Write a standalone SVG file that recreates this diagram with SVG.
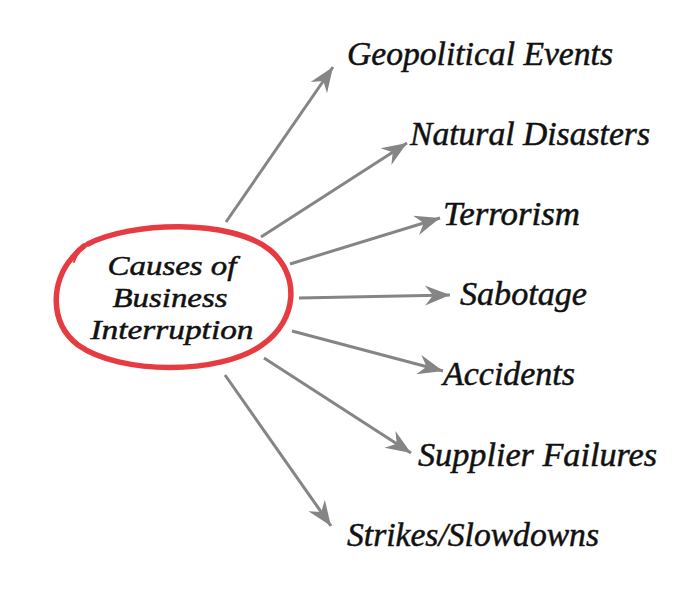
<svg xmlns="http://www.w3.org/2000/svg" width="699" height="599" viewBox="0 0 699 599">
<style>
  .lbl { font-family: "Liberation Serif", serif; font-style: italic; font-size: 34px; fill: #111; stroke: #111; stroke-width: 0.5; }
  .ctr { font-family: "Liberation Serif", serif; font-style: italic; font-size: 28px; fill: #111; stroke: #111; stroke-width: 0.5; text-anchor: middle; }
  .conn line { stroke: #858585; stroke-width: 3; marker-end: url(#ah); }
</style>
<defs>
  <marker id="ah" markerUnits="userSpaceOnUse" viewBox="-26 -12 28 24" refX="0" refY="0" markerWidth="28" markerHeight="24" orient="auto">
    <path d="M0,0 L-25,-10 L-17,0 L-25,10 Z" fill="#858585"/>
  </marker>
</defs>
<rect width="699" height="599" fill="#ffffff"/>
<g id="connectors" class="conn">
  <line x1="226" y1="222" x2="333" y2="67"/>
  <line x1="261" y1="237" x2="407" y2="143"/>
  <line x1="290" y1="264" x2="440" y2="218"/>
  <line x1="299" y1="298" x2="450" y2="295"/>
  <line x1="292" y1="331" x2="443" y2="371"/>
  <line x1="264" y1="358" x2="411" y2="453"/>
  <line x1="225" y1="375" x2="331" y2="526"/>
</g>
<g id="center">
  <path d="M88,244 C130,222 230,218 270,250 C300,275 298,320 262,345 C220,375 120,375 78,345 C48,322 52,280 72,258 C76,253 80,249 84,246" fill="none" stroke="#e63b40" stroke-width="5.5" stroke-linecap="round"/>
  <path d="M84,246 C80,250 76,256 74,262" fill="none" stroke="#e63b40" stroke-width="2" stroke-linecap="round"/>
  <text class="ctr" x="172" y="275" textLength="129" lengthAdjust="spacingAndGlyphs">Causes of</text>
  <text class="ctr" x="170" y="307" textLength="115" lengthAdjust="spacingAndGlyphs">Business</text>
  <text class="ctr" x="172" y="339" textLength="163" lengthAdjust="spacingAndGlyphs">Interruption</text>
</g>
<g id="n1"><text class="lbl" x="347" y="65" textLength="266" lengthAdjust="spacingAndGlyphs">Geopolitical Events</text></g>
<g id="n2"><text class="lbl" x="410" y="145" textLength="240" lengthAdjust="spacingAndGlyphs">Natural Disasters</text></g>
<g id="n3"><text class="lbl" x="443" y="225" textLength="137" lengthAdjust="spacingAndGlyphs">Terrorism</text></g>
<g id="n4"><text class="lbl" x="460" y="305" textLength="127" lengthAdjust="spacingAndGlyphs">Sabotage</text></g>
<g id="n5"><text class="lbl" x="443" y="385" textLength="132" lengthAdjust="spacingAndGlyphs">Accidents</text></g>
<g id="n6"><text class="lbl" x="418" y="466" textLength="239" lengthAdjust="spacingAndGlyphs">Supplier Failures</text></g>
<g id="n7"><text class="lbl" x="347" y="546" textLength="252" lengthAdjust="spacingAndGlyphs">Strikes/Slowdowns</text></g>
</svg>
